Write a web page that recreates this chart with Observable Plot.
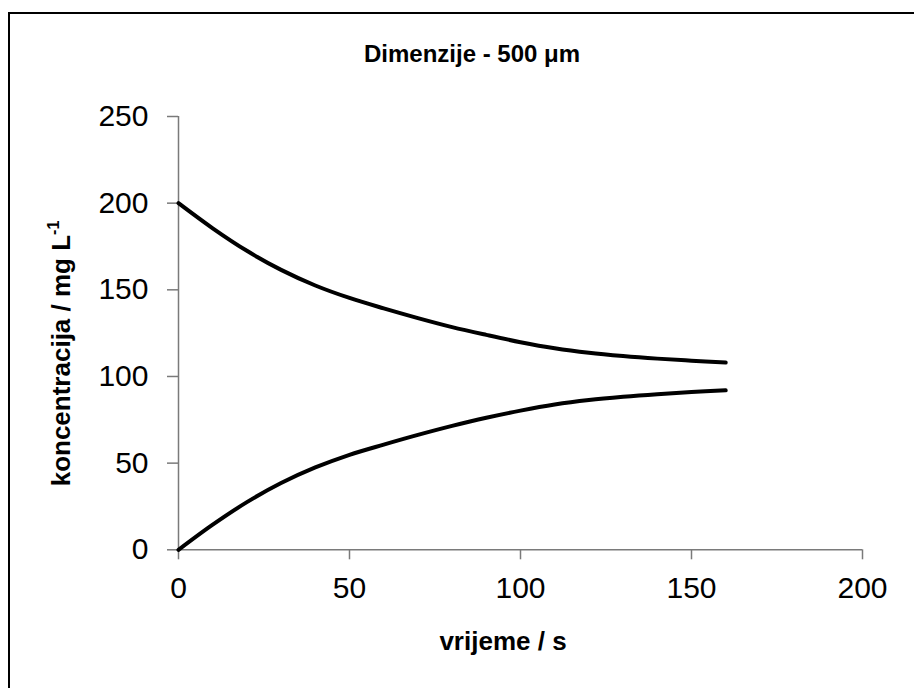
<!DOCTYPE html>
<html>
<head>
<meta charset="utf-8">
<script src="https://cdn.jsdelivr.net/npm/d3@7"></script>
<script src="https://cdn.jsdelivr.net/npm/@observablehq/plot@0.6"></script>
<style>
  html, body { margin: 0; padding: 0; background: #fff; overflow: hidden; }
  body { width: 914px; height: 688px; position: relative; }
  #frame { position: absolute; left: 8px; top: 12px; width: 950px; height: 720px;
           border-left: 2px solid #000; border-top: 2px solid #000; box-sizing: border-box; }
  #title { position: relative; height: 80px; box-sizing: border-box; padding-top: 40px;
           padding-left: 30px; text-align: center; font: bold 24px "Liberation Sans", Arial, sans-serif;
           line-height: normal; color: #000; }
  #chart { position: relative; }
</style>
</head>
<body>
<div id="frame"></div>
<div id="title">Dimenzije - 500 μm</div>
<div id="chart"></div>
<script>
const time  = [0, 10, 20, 30, 40, 50, 60, 70, 80, 90, 100, 110, 120, 130, 140, 150, 160];
const upper = [200, 185.5, 172.5, 161.5, 152.5, 145.3, 139.3, 133.7, 128.5, 124, 119.8, 116.3, 113.7, 111.8, 110.3, 109.1, 108];
const lower = [0, 14.5, 27.5, 38.5, 47.5, 54.8, 60.7, 66.3, 71.5, 76.2, 80.3, 83.8, 86.4, 88.3, 89.8, 91, 92];
const xTicks = [0, 50, 100, 150, 200];
const yTicks = [0, 50, 100, 150, 200, 250];
const xLabel = "vrijeme / s";
const yLabel = "koncentracija / mg L";
const yLabelSup = "-1";

const data = time.flatMap((t, i) => [
  {t, c: upper[i], s: "upper"},
  {t, c: lower[i], s: "lower"}
]);

const axisColor = "#7a7a7a";
const svg = Plot.plot({
  width: 914,
  height: 608,
  marginTop: 36,
  marginBottom: 138.7,
  marginLeft: 178,
  marginRight: 52,
  style: {fontFamily: "'Liberation Sans', Arial, sans-serif", fontSize: "30px", color: "#000", background: "transparent", overflow: "visible"},
  x: {domain: [0, 200]},
  y: {domain: [0, 250]},
  marks: [
    Plot.ruleY([0], {stroke: axisColor, strokeWidth: 1.5}),
    Plot.ruleX([0], {stroke: axisColor, strokeWidth: 1.5}),
    Plot.axisX({ticks: xTicks, tickSize: 10, tickPadding: 16.4, stroke: axisColor, strokeWidth: 1.5, fill: "#000", label: null, tickFormat: d => String(d)}),
    Plot.axisY({ticks: yTicks, tickSize: 11, tickPadding: 19, stroke: axisColor, strokeWidth: 1.5, fill: "#000", label: null, tickFormat: d => String(d)}),
    Plot.line(data, {x: "t", y: "c", z: "s", stroke: "#000", strokeWidth: 4, curve: "catmull-rom", strokeLinecap: "round"})
  ]
});

const s = d3.select(svg);
s.append("text")
  .attr("x", 503).attr("y", 570)
  .attr("text-anchor", "middle")
  .attr("font-weight", "bold").attr("font-size", 26)
  .attr("font-family", "'Liberation Sans', Arial, sans-serif")
  .attr("fill", "#000")
  .text(xLabel);

const yl = s.append("text")
  .attr("transform", "translate(70,273.5) rotate(-90)")
  .attr("text-anchor", "middle")
  .attr("font-weight", "bold").attr("font-size", 26)
  .attr("font-family", "'Liberation Sans', Arial, sans-serif")
  .attr("fill", "#000");
yl.append("tspan").text(yLabel);
yl.append("tspan").attr("font-size", 16).attr("dy", -11).text(yLabelSup);

document.getElementById("chart").appendChild(svg);
</script>
</body>
</html>
